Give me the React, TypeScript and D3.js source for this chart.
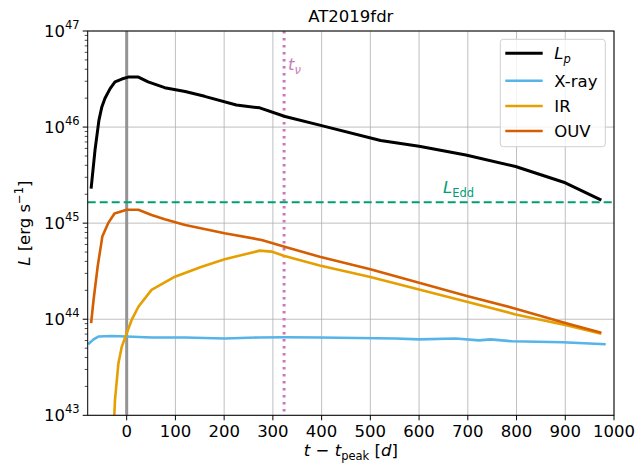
import React from "react";
import * as d3 from "d3";

const LpT = [-73, -65, -57, -51, -44.5, -34, -24, -10, 3, 24, 44, 78, 120, 160, 225, 273, 325, 396, 521, 600, 696, 798, 900, 974];
const LpLog = [45.36, 45.76, 46.07, 46.21, 46.3, 46.4, 46.47, 46.5, 46.52, 46.52, 46.47, 46.41, 46.37, 46.32, 46.23, 46.2, 46.11, 46.02, 45.86, 45.8, 45.71, 45.59, 45.42, 45.24];

const xrayT = [-79, -68, -58, -31, 0, 51, 120, 201, 270, 325, 396, 552, 600, 675, 723, 747, 791, 894, 983];
const xrayLog = [43.74, 43.79, 43.82, 43.826, 43.82, 43.81, 43.81, 43.8, 43.81, 43.813, 43.81, 43.8, 43.79, 43.8, 43.78, 43.79, 43.77, 43.76, 43.74];

const irT = [-25.4, -24, -17, -10, 0, 10, 24, 51, 99, 154, 201, 273, 297, 324, 396, 500, 600, 700, 798, 900, 974];
const irLog = [43.0, 43.16, 43.54, 43.715, 43.854, 43.99, 44.13, 44.305, 44.443, 44.547, 44.624, 44.714, 44.704, 44.659, 44.56, 44.44, 44.31, 44.18, 44.05, 43.94, 43.85];

const ouvT = [-73, -68, -59.5, -50, -38, -25, 0, 24, 51, 78, 120, 201, 277, 324, 396, 500, 600, 700, 798, 900, 974];
const ouvLog = [43.96, 44.2, 44.55, 44.86, 45.0, 45.1, 45.14, 45.14, 45.085, 45.04, 44.98, 44.895, 44.825, 44.755, 44.65, 44.52, 44.38, 44.24, 44.11, 43.96, 43.86];

const LEdd = 1.65e45;
const tNu = 323;
const xTicks = [0, 100, 200, 300, 400, 500, 600, 700, 800, 900, 1000];
const yTicksExp = [43, 44, 45, 46, 47];
const legendLabels = ["Lp", "X-ray", "IR", "OUV"];

const colors = {
  Lp: "#000000",
  xray: "#56B4E9",
  ir: "#E69F00",
  ouv: "#D55E00",
  edd: "#029E73",
  nu: "#CC78BC",
};

const FONT = "DejaVu Sans, sans-serif";

export default function App() {
  const left = 87.7, right = 614, top = 31, bottom = 415.3;
  const x = d3.scaleLinear().domain([-80, 1000]).range([left, right]);
  const y = d3.scaleLog().domain([1e43, 1e47]).range([bottom, top]);
  const line = d3
    .line<[number, number]>()
    .x((d) => x(d[0]))
    .y((d) => y(Math.pow(10, d[1])));

  const series = [
    { t: xrayT, v: xrayLog, c: colors.xray },
    { t: irT, v: irLog, c: colors.ir },
    { t: ouvT, v: ouvLog, c: colors.ouv },
    { t: LpT, v: LpLog, c: colors.Lp },
  ];

  const minor: number[] = [];
  for (let e = 43; e < 47; e++) for (let m = 2; m <= 9; m++) minor.push(m * Math.pow(10, e));

  const legendY = [53.3, 80.7, 106, 131];
  const legendColors = [colors.Lp, colors.xray, colors.ir, colors.ouv];

  return (
    <svg width={636} height={466} style={{ position: "absolute", left: 0, top: 0, background: "#fff" }} fontFamily={FONT}>
      <defs>
        <clipPath id="plot">
          <rect x={left} y={top} width={right - left} height={bottom - top} />
        </clipPath>
      </defs>
      {xTicks.map((t) => (
        <line key={"gx" + t} x1={x(t)} x2={x(t)} y1={top} y2={bottom} stroke="#b0b0b0" strokeWidth={1} opacity={0.8} />
      ))}
      {yTicksExp.map((e) => (
        <line key={"gy" + e} x1={left} x2={right} y1={y(Math.pow(10, e))} y2={y(Math.pow(10, e))} stroke="#b0b0b0" strokeWidth={1} opacity={0.8} />
      ))}
      <g clipPath="url(#plot)">
        <line x1={x(0)} x2={x(0)} y1={top} y2={bottom} stroke="#949494" strokeWidth={3} />
        <line x1={x(tNu)} x2={x(tNu)} y1={top} y2={bottom} stroke={colors.nu} strokeWidth={3} strokeDasharray="2.5,4.5" />
        <line x1={left} x2={right} y1={y(LEdd)} y2={y(LEdd)} stroke={colors.edd} strokeWidth={2.2} strokeDasharray="8,4" />
        {series.map((s, i) => (
          <path
            key={i}
            d={line(s.t.map((t, j) => [t, s.v[j]] as [number, number])) || ""}
            fill="none"
            stroke={s.c}
            strokeWidth={i === 3 ? 3 : 2.6}
            strokeLinejoin="round"
          />
        ))}
      </g>
      <text x={x(tNu) + 4} y={70} fill={colors.nu} fontSize={16.5} fontStyle="italic">
        t<tspan fontSize={11.5} dy={4}>ν</tspan>
      </text>
      <text x={443} y={193} fill={colors.edd} fontSize={16.5}>
        <tspan fontStyle="italic">L</tspan>
        <tspan fontSize={11.5} dy={4}>Edd</tspan>
      </text>
      <rect x={left} y={top} width={right - left} height={bottom - top} fill="none" stroke="#000" strokeWidth={1} />
      {xTicks.map((t) => (
        <g key={"xt" + t}>
          <line x1={x(t)} x2={x(t)} y1={bottom} y2={bottom + 5} stroke="#000" />
          <text x={x(t)} y={bottom + 22} fontSize={16.5} textAnchor="middle">
            {t}
          </text>
        </g>
      ))}
      {yTicksExp.map((e) => (
        <g key={"yt" + e}>
          <line x1={left - 5} x2={left} y1={y(Math.pow(10, e))} y2={y(Math.pow(10, e))} stroke="#000" />
          <text x={left - 8} y={y(Math.pow(10, e)) + 6} fontSize={16.5} textAnchor="end">
            10<tspan fontSize={11.5} dy={-8}>{e}</tspan>
          </text>
        </g>
      ))}
      {minor.map((v, i) => (
        <line key={"mn" + i} x1={left - 3} x2={left} y1={y(v)} y2={y(v)} stroke="#000" strokeWidth={0.7} />
      ))}
      <text x={(left + right) / 2} y={22} fontSize={16.5} textAnchor="middle">
        AT2019fdr
      </text>
      <text x={(left + right) / 2} y={456} fontSize={16.5} textAnchor="middle">
        <tspan fontStyle="italic">t</tspan>
        <tspan> − </tspan>
        <tspan fontStyle="italic">t</tspan>
        <tspan fontSize={11.5} dy={4}>peak</tspan>
        <tspan dy={-4}> [</tspan>
        <tspan fontStyle="italic">d</tspan>
        <tspan>]</tspan>
      </text>
      <text transform={`translate(30, ${(top + bottom) / 2}) rotate(-90)`} fontSize={16.5} textAnchor="middle">
        <tspan fontStyle="italic">L</tspan>
        <tspan> [erg s</tspan>
        <tspan fontSize={11.5} dy={-7}>−1</tspan>
        <tspan dy={7}>]</tspan>
      </text>
      <rect x={500.3} y={39.3} width={105} height={107.4} rx={3} fill="#fff" fillOpacity={0.8} stroke="#d0d0d0" />
      {legendLabels.map((l, i) => (
        <g key={"lg" + i}>
          <line x1={505.3} x2={542.7} y1={legendY[i]} y2={legendY[i]} stroke={legendColors[i]} strokeWidth={i === 0 ? 3 : 2.6} />
          {i === 0 ? (
            <text x={554.3} y={legendY[i] + 6} fontSize={16.5}>
              <tspan fontStyle="italic">L</tspan>
              <tspan fontSize={11.5} fontStyle="italic" dy={4}>p</tspan>
            </text>
          ) : (
            <text x={554.3} y={legendY[i] + 6} fontSize={16.5}>
              {l}
            </text>
          )}
        </g>
      ))}
    </svg>
  );
}
